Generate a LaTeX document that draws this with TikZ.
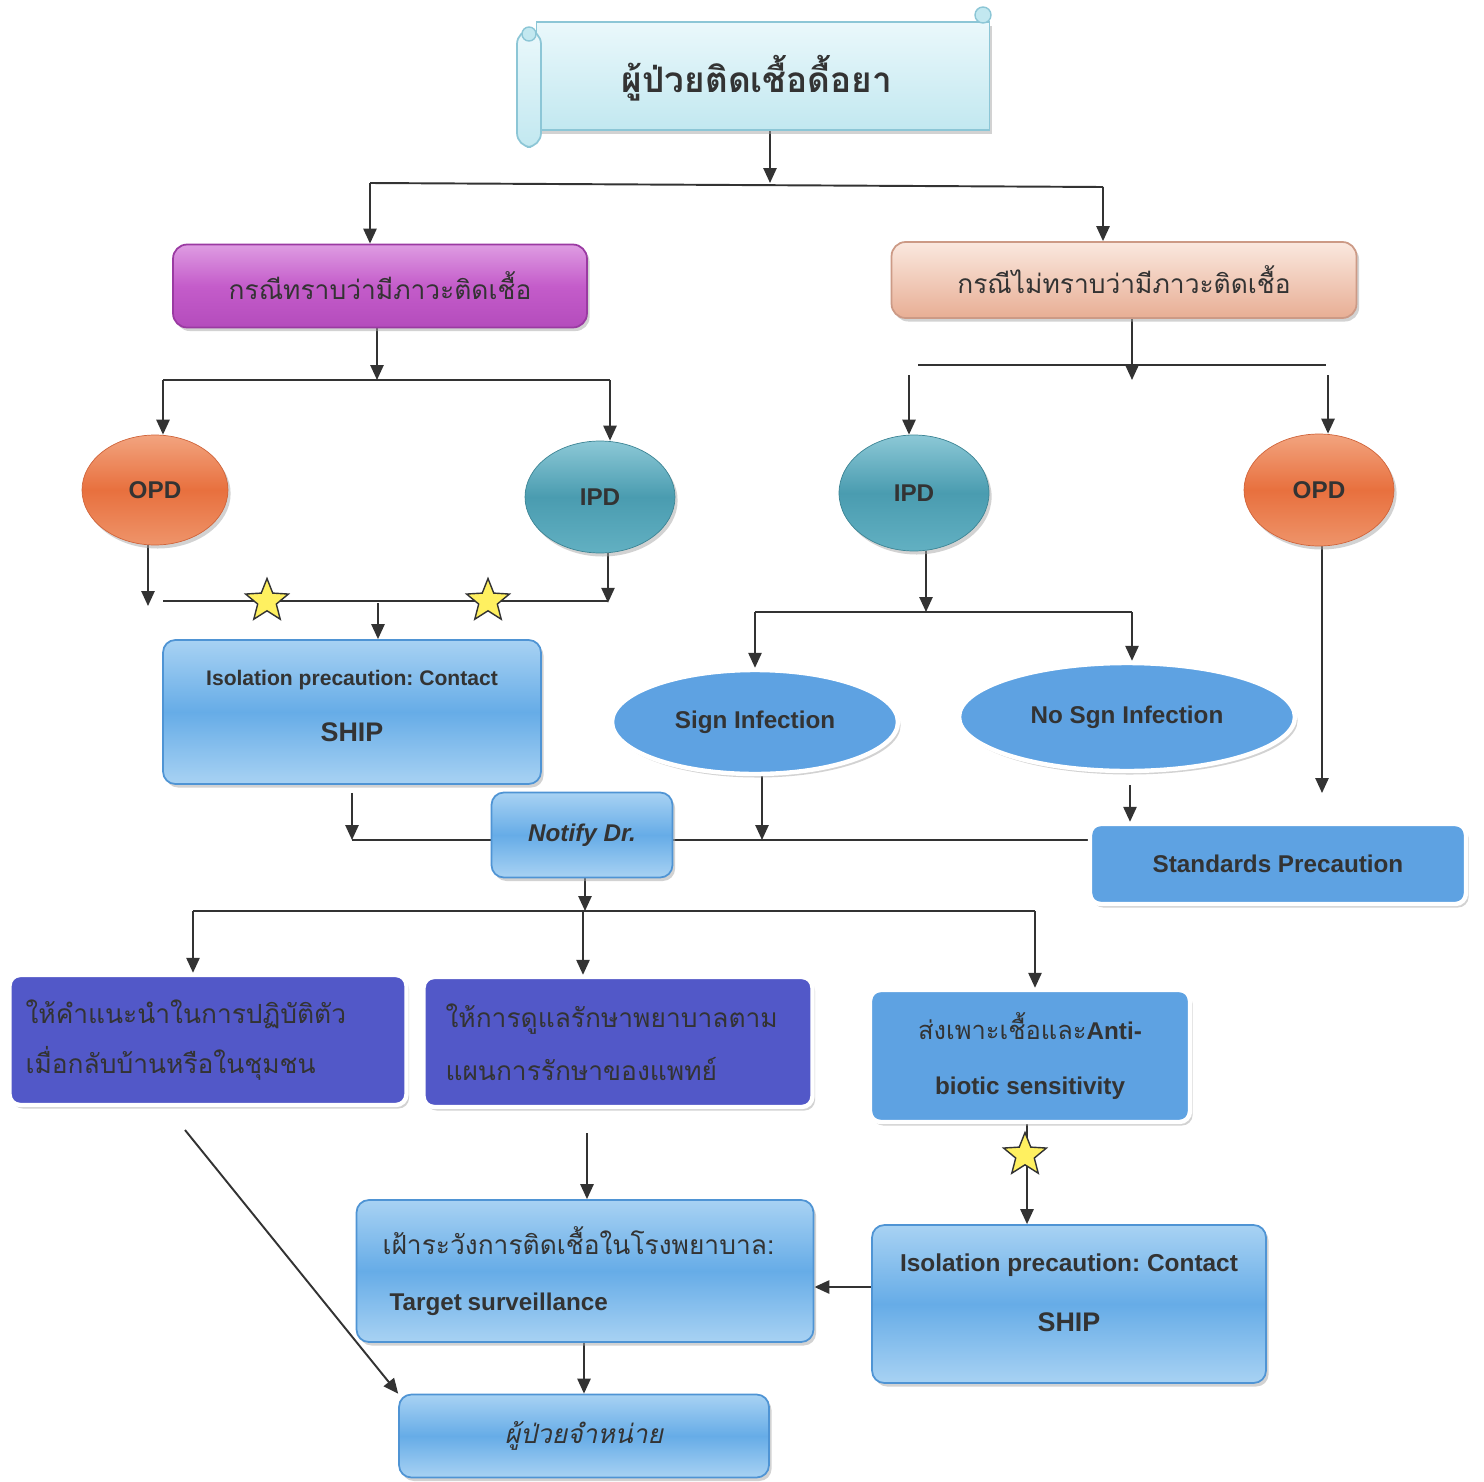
\documentclass[tikz,border=0pt]{standalone}
\usepackage{fontspec}
\setmainfont{Liberation Sans}
\newfontfamily\thaifont[Script=Thai]{Loma}
\usetikzlibrary{arrows.meta,shapes.geometric,shadows,backgrounds}
\frenchspacing

\definecolor{ink}{HTML}{333333}
\definecolor{boxtop}{HTML}{A8D2F3}
\definecolor{boxmid}{HTML}{66ACE7}
\definecolor{boxedge}{HTML}{4F94D4}
\definecolor{darkblue}{HTML}{5258C8}
\definecolor{ovalblue}{HTML}{5EA2E2}
\definecolor{starfill}{HTML}{FFF060}
\definecolor{scrolltop}{HTML}{EAF8FB}
\definecolor{scrollbot}{HTML}{C2E8F0}
\definecolor{scrolledge}{HTML}{8CC6D6}
\definecolor{magtop}{HTML}{DE9CE2}
\definecolor{magmid}{HTML}{C45CCA}
\definecolor{magbot}{HTML}{B44CBC}
\definecolor{magedge}{HTML}{9A3AA2}
\definecolor{peachtop}{HTML}{FAE8DF}
\definecolor{peachbot}{HTML}{E8AE94}
\definecolor{peachedge}{HTML}{CC9A86}
\definecolor{opdtop}{HTML}{F2A47F}
\definecolor{opdmid}{HTML}{E8703E}
\definecolor{opdbot}{HTML}{EE946A}
\definecolor{opdedge}{HTML}{D0643A}
\definecolor{ipdtop}{HTML}{8CC8D6}
\definecolor{ipdmid}{HTML}{4A9CB0}
\definecolor{ipdbot}{HTML}{62B0C2}
\definecolor{ipdedge}{HTML}{3C8494}

\tikzset{
  line/.style={draw=ink,line width=1.1pt},
  arr/.style={line,-{Triangle[length=8.5pt,width=7.5pt]}},
  en/.style={font=\bfseries\fontsize{13.8}{16}\selectfont,text=ink},
  th/.style={font=\thaifont\fontsize{15}{18}\selectfont,text=ink},
  shade/.style={drop shadow={shadow xshift=1.5pt,shadow yshift=-2pt,fill=black!35}},
  bluebox/.style={rectangle,rounded corners=7pt,draw=boxedge,line width=1pt,
    top color=boxtop,bottom color=boxtop,middle color=boxmid,shade},
  flatbox/.style={rectangle,rounded corners=6pt,draw=white,line width=2.5pt,shade},
  darkbox/.style={flatbox,fill=darkblue,th,align=left},
  oval/.style={ellipse,draw=white,line width=2.5pt,fill=ovalblue,shade,en},
  opd/.style={ellipse,draw=opdedge,top color=opdtop,bottom color=opdbot,middle color=opdmid,en,shade},
  ipd/.style={ellipse,draw=ipdedge,top color=ipdtop,bottom color=ipdbot,middle color=ipdmid,en,shade},
  starmark/.style={star,star points=5,star point ratio=2.3,fill=starfill,
    draw=ink,line width=0.8pt,minimum size=0.9cm,inner sep=0pt},
}

\begin{document}
\begin{tikzpicture}[x=0.02cm,y=-0.02cm]
\useasboundingbox (0,0) rectangle (1484,1481);

% title scroll
\node[rectangle,draw=scrolledge,line width=1pt,top color=scrolltop,bottom color=scrollbot,
  minimum width=9.06cm,minimum height=2.16cm,shade] (title) at (763,76) {};
\draw[line width=1pt,draw=scrolledge,top color=scrolltop,bottom color=scrollbot,rounded corners=8pt]
  (517,30) rectangle (541,147);
\draw[line width=0.8pt,draw=scrolledge,fill=scrollbot] (529,34) circle (7);
\draw[line width=0.8pt,draw=scrolledge,fill=scrollbot] (983,15) circle (8);
\node[font=\thaifont\bfseries\fontsize{20}{24}\selectfont,text=ink] (titletext) at (757,78) {ผู้ป่วยติดเชื้อดื้อยา};

% two cases
\node[rectangle,rounded corners=8pt,draw=magedge,line width=1pt,
  top color=magtop,bottom color=magbot,middle color=magmid,
  minimum width=8.28cm,minimum height=1.66cm,th,shade] (known) at (380,286) {กรณีทราบว่ามีภาวะติดเชื้อ};
\node[rectangle,rounded corners=8pt,draw=peachedge,line width=1pt,
  top color=peachtop,bottom color=peachbot,
  minimum width=9.3cm,minimum height=1.52cm,th,shade] (unknown) at (1124,280) {กรณีไม่ทราบว่ามีภาวะติดเชื้อ};

% OPD / IPD
\node[opd,minimum width=2.92cm,minimum height=2.2cm] (opdA) at (155,490) {OPD};
\node[ipd,minimum width=3cm,minimum height=2.24cm] (ipdA) at (600,497) {IPD};
\node[ipd,minimum width=3cm,minimum height=2.32cm] (ipdB) at (914,493) {IPD};
\node[opd,minimum width=3cm,minimum height=2.24cm] (opdB) at (1319,490) {OPD};

% middle row
\node[bluebox,en,align=center,minimum width=7.56cm,minimum height=2.88cm] (isoA) at (352,712)
  {{\fontsize{12}{14}\selectfont Isolation precaution: Contact}\\[16pt]{\fontsize{15.3}{18}\selectfont SHIP}\\[-9pt]};
\node[oval,minimum width=5.72cm,minimum height=2.08cm] (sign) at (755,722) {Sign Infection};
\node[oval,minimum width=6.72cm,minimum height=2.16cm] (nosign) at (1127,717) {No Sgn Infection};
\node[bluebox,en,font=\bfseries\itshape\fontsize{13.8}{16}\selectfont,minimum width=3.62cm,minimum height=1.7cm] (notify) at (582,835) {Notify Dr.};
\node[flatbox,fill=ovalblue,en,minimum width=7.52cm,minimum height=1.6cm] (standard) at (1278,864) {Standards Precaution};

% actions
\node[darkbox,minimum width=7.94cm,minimum height=2.6cm,text width=7.3cm,font=\thaifont\fontsize{15}{28}\selectfont] (advice) at (208,1040)
  {ให้คำแนะนำในการปฏิบัติตัว\\เมื่อกลับบ้านหรือในชุมชน};
\node[darkbox,minimum width=7.78cm,minimum height=2.6cm,text width=6.9cm,font=\thaifont\fontsize{15}{30}\selectfont] (care) at (618,1042)
  {ให้การดูแลรักษาพยาบาลตาม\\แผนการรักษาของแพทย์};
\node[flatbox,fill=ovalblue,align=center,text=ink,minimum width=6.4cm,minimum height=2.64cm] (culture) at (1030,1056)
  {{\thaifont\fontsize{14.5}{18}\selectfont ส่งเพาะเชื้อและ}{\bfseries\fontsize{13.8}{16}\selectfont Anti-}\\[19pt]
   {\bfseries\fontsize{13.8}{16}\selectfont biotic sensitivity}};
\node[bluebox,en,align=center,minimum width=7.88cm,minimum height=3.16cm] (isoB) at (1069,1304)
  {{\fontsize{13.9}{16}\selectfont Isolation precaution: Contact}\\[18pt]{\fontsize{15.3}{18}\selectfont SHIP}\\[-3pt]};
\node[bluebox,align=left,text=ink,text width=8.1cm,minimum width=9.14cm,minimum height=2.84cm] (surv) at (585,1271)
  {{\thaifont\fontsize{15}{18}\selectfont เฝ้าระวังการติดเชื้อในโรงพยาบาล:}\\[20pt]
   \hspace*{4pt}{\bfseries\fontsize{13.8}{16}\selectfont Target surveillance}};
\node[bluebox,th,font=\thaifont\itshape\fontsize{15}{18}\selectfont,minimum width=7.4cm,minimum height=1.66cm] (discharge) at (584,1436) {ผู้ป่วยจำหน่าย};

% stars
\node[starmark] (st1) at (267,601) {};
\node[starmark] (st2) at (488,601) {};
\node[starmark] (st3) at (1025,1155) {};

% connectors
\begin{scope}[on background layer]
  \coordinate (s0) at (770,183);
  \coordinate (sA) at (370,183);
  \coordinate (sB) at (1103,187);
  \draw[arr] (title.south -| s0) -- (s0);
  \draw[line] (sA) -- (sB);
  \draw[arr] (sA) -- (sA |- known.north);
  \draw[arr] (sB) -- (sB |- unknown.north);

  \coordinate (k0) at (377,380);
  \coordinate (kA) at (163,380);
  \coordinate (kB) at (610,380);
  \draw[arr] (known.south -| k0) -- (k0);
  \draw[line] (kA) -- (kB);
  \draw[arr] (kA) -- (kA |- opdA.north);
  \draw[arr] (kB) -- (kB |- ipdA.north);

  \coordinate (u0) at (1132,380);
  \coordinate (uA) at (918,365);
  \coordinate (uB) at (1326,365);
  \coordinate (uA2) at (909,375);
  \coordinate (uB2) at (1328,375);
  \draw[arr] (unknown.south -| u0) -- (u0);
  \draw[line] (uA) -- (uB);
  \draw[arr] (uA2) -- (uA2 |- ipdB.north);
  \draw[arr] (uB2) -- (uB2 |- opdB.north);

  \coordinate (oa) at (148,606);
  \coordinate (mA) at (163,601);
  \coordinate (mB) at (608,601);
  \coordinate (m0) at (378,603);
  \draw[arr] (opdA.south -| oa) -- (oa);
  \draw[line] (mA) -- (mB);
  \draw[arr] (ipdA.south -| mB) -- ([yshift=-1pt]mB);
  \draw[arr] (m0) -- (m0 |- isoA.north);

  \coordinate (n0) at (926,612);
  \coordinate (nA) at (755,612);
  \coordinate (nB) at (1132,612);
  \draw[arr] (ipdB.south -| n0) -- (n0);
  \draw[line] (nA) -- (nB);
  \draw[arr] (nA) -- (nA |- sign.north);
  \draw[arr] (nB) -- (nB |- nosign.north);

  \coordinate (ob) at (1322,793);
  \draw[arr] (opdB.south -| ob) -- (ob);
  \coordinate (nb) at (1130,785);
  \draw[arr] (nb) -- (nb |- standard.north);

  \coordinate (pA) at (352,840);
  \coordinate (pS) at (762,840);
  \draw[line] (pA) -- (pA -| standard.west);
  \draw[arr] (isoA.south -| pA) ++(0,8) -- (pA);
  \draw[arr] (sign.south -| pS) -- (pS);

  \coordinate (q0) at (585,911);
  \coordinate (qA) at (193,911);
  \coordinate (qB) at (583,911);
  \coordinate (qC) at (1035,911);
  \draw[arr] (notify.south -| q0) -- (q0);
  \draw[line] (qA) -- (qC);
  \draw[arr] (qA) -- (qA |- advice.north);
  \draw[arr] (qB) -- (qB |- care.north);
  \draw[arr] (qC) -- (qC |- culture.north);

  \coordinate (c0) at (1027,1150);
  \draw[arr] (culture.south -| c0) -- (c0 |- isoB.north);

  \coordinate (r0) at (844,1287);
  \draw[arr] (isoB.west |- r0) -- (surv.east |- r0);

  \coordinate (v0) at (587,1133);
  \draw[arr] (v0) -- (v0 |- surv.north);
  \draw[arr] (surv.south -| discharge.north) -- (discharge.north);

  \coordinate (w0) at (185,1130);
  \draw[arr] (w0) -- (discharge.north west);
\end{scope}
\end{tikzpicture}
\end{document}
